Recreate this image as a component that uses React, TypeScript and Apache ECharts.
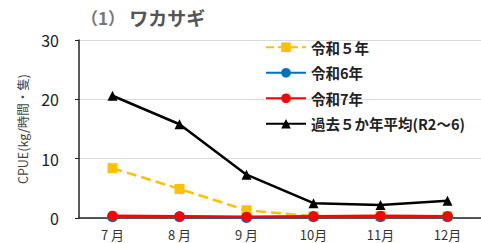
import React, { useEffect, useRef } from "react";
import * as echarts from "echarts";

const months = ["7 月", "8 月", "9 月", "10月", "11月", "12月"];
const r5 = [8.4, 4.9, 1.3, 0.3, 0.3, 0.3];
const r6 = [0.2, 0.2, 0.1, 0.2, 0.2, 0.2];
const r7 = [0.4, 0.3, 0.2, 0.3, 0.4, 0.3];
const avg5 = [20.6, 15.8, 7.3, 2.5, 2.2, 2.9];
const yTicks = { min: 0, max: 30, interval: 10 };

const FONT = "'Noto Sans CJK JP', 'Noto Sans', sans-serif";

export default function App() {
  const ref = useRef<HTMLDivElement>(null);
  useEffect(() => {
    document.body.style.margin = "0";
    const chart = echarts.init(ref.current!, undefined, { renderer: "svg" });
    chart.setOption({
      animation: false,
      textStyle: { fontFamily: FONT },
      title: {
        text: "{a|（1）}{b| ワカサギ}",
        left: 76,
        top: 3,
        textStyle: {
          rich: {
            a: { fontSize: 17, color: "#777", fontFamily: FONT },
            b: { fontSize: 19, color: "#555", fontWeight: "bold", fontFamily: FONT },
          },
        },
      },
      grid: { left: 79, right: 0, top: 40, bottom: 25 },
      legend: {
        orient: "vertical",
        left: 260,
        top: 35,
        itemGap: 11,
        itemWidth: 40,
        itemHeight: 12,
        textStyle: { fontSize: 14.5, color: "#222", fontWeight: "bold", fontFamily: FONT },
        data: ["令和５年", "令和6年", "令和7年", "過去５か年平均(R2～6)"],
      },
      xAxis: {
        type: "category",
        data: months,
        axisLine: { lineStyle: { color: "#222", width: 1.5 } },
        axisTick: { show: false },
        axisLabel: { fontSize: 13, lineHeight: 14, color: "#333", margin: 9 },
      },
      yAxis: {
        type: "value",
        min: yTicks.min,
        max: yTicks.max,
        interval: yTicks.interval,
        name: "CPUE(kg/時間・隻)",
        nameLocation: "middle",
        nameGap: 50,
        nameTextStyle: { fontSize: 12.5, color: "#444" },
        axisLine: { show: true, lineStyle: { color: "#222", width: 1.5 } },
        axisTick: { show: true, length: 4, lineStyle: { color: "#222" } },
        axisLabel: { fontSize: 16, color: "#222", margin: 20 },
        splitLine: { lineStyle: { color: "#d9d9d9" } },
      },
      series: [
        {
          name: "令和５年",
          type: "line",
          data: r5,
          symbol: "rect",
          symbolSize: 10,
          color: "#FFC000",
          lineStyle: { type: "dashed", width: 2.5, color: "#FFC000" },
          z: 2,
        },
        {
          name: "令和6年",
          type: "line",
          data: r6,
          symbol: "circle",
          symbolSize: 11,
          color: "#0070C0",
          lineStyle: { width: 2.5, color: "#0070C0" },
          z: 3,
        },
        {
          name: "令和7年",
          type: "line",
          data: r7,
          symbol: "circle",
          symbolSize: 10,
          color: "#FF0000",
          lineStyle: { width: 2.5, color: "#FF0000" },
          z: 4,
        },
        {
          name: "過去５か年平均(R2～6)",
          type: "line",
          data: avg5,
          symbol: "triangle",
          symbolSize: 10,
          color: "#000",
          lineStyle: { width: 2.5, color: "#000" },
          z: 5,
        },
      ],
    });
    return () => chart.dispose();
  }, []);
  return <div ref={ref} style={{ width: 481, height: 243 }} />;
}
